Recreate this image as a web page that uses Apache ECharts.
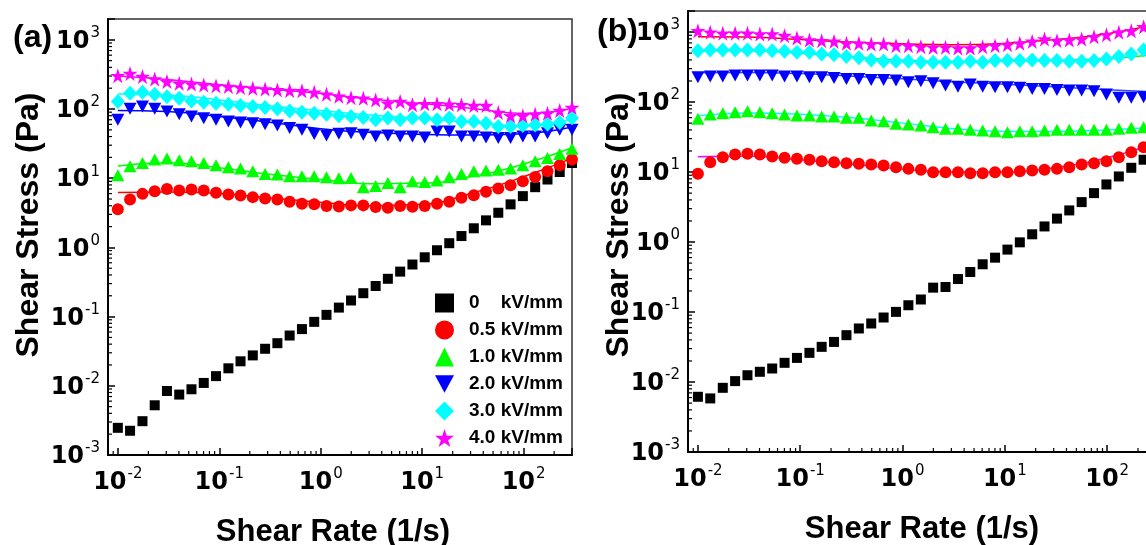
<!DOCTYPE html>
<html>
<head>
<meta charset="utf-8">
<style>
  html, body { margin: 0; padding: 0; background: #fff; }
  #chart { width: 1146px; height: 545px; }
</style>
<script src="https://cdn.jsdelivr.net/npm/echarts/dist/echarts.min.js"></script>
</head>
<body>
<div id="chart"></div>
<script>
// ---------- data ----------
const seriesNames = ['0    kV/mm', '0.5 kV/mm', '1.0 kV/mm', '2.0 kV/mm', '3.0 kV/mm', '4.0 kV/mm'];

// shear rates (1/s), log sweep
const shearRate = [0.01, 0.0132, 0.0175, 0.0231, 0.0305, 0.0403, 0.0532, 0.0703, 0.0929, 0.123,
  0.162, 0.214, 0.283, 0.374, 0.494, 0.653, 0.863, 1.14, 1.51, 1.99,
  2.63, 3.48, 4.59, 6.07, 8.02, 10.6, 14.0, 18.5, 24.4, 32.3,
  42.6, 56.3, 74.4, 98.3, 130, 172, 227, 300];

// panel (a) shear stress (Pa)
const a0kV = [0.00247, 0.00224, 0.00308, 0.00523, 0.00841, 0.00747, 0.00891, 0.0110, 0.0138, 0.0179,
  0.0226, 0.0275, 0.0343, 0.0413, 0.0533, 0.066, 0.084, 0.106, 0.135, 0.171,
  0.218, 0.277, 0.352, 0.447, 0.566, 0.72, 0.91, 1.15, 1.46, 1.89,
  2.46, 3.17, 4.19, 5.51, 7.42, 9.58, 12.3, 16.6];
const a05kV = [3.55, 4.94, 5.94, 6.5, 7.01, 6.65, 6.88, 6.65, 6.15, 5.83,
  5.64, 5.33, 5.11, 4.94, 4.56, 4.27, 4.19, 3.96, 3.9, 4.05,
  4.05, 3.83, 3.74, 3.96, 3.87, 3.96, 4.27, 4.56, 5.21, 5.69,
  6.35, 7.11, 7.93, 9.06, 10.4, 12.6, 15.4, 18.6];
const a1kV = [11.0, 14.9, 16.6, 18.6, 19.2, 18.2, 17.6, 16.6, 15.4, 14.4,
  13.8, 12.6, 11.5, 11.3, 10.7, 10.7, 10.7, 10.3, 10.0, 10.1,
  7.4, 7.7, 8.55, 7.4, 9.06, 8.85, 9.27, 10.3, 11.5, 12.6,
  12.9, 13.3, 13.8, 15.4, 17.6, 19.6, 22.4, 26.7];
const a2kV = [70, 100.7, 109, 100.7, 92, 84, 78, 73.8, 70, 66,
  64, 62.5, 60.4, 58, 53, 50.2, 43.4, 41.5, 44, 44.8,
  42.6, 40.2, 41.5, 40.2, 40.2, 38.9, 47.5, 47.5, 40.2, 40.2,
  38.9, 38, 38, 40.2, 40.2, 44.8, 50.2, 50.2];
const a3kV = [128, 169, 175, 163, 151, 143, 131, 125, 121, 117,
  112, 109, 105, 101, 94, 90, 87, 84, 80, 78,
  75.5, 70, 74, 70, 74, 74, 70, 74, 66, 66,
  62.5, 56, 56, 58, 59, 60.4, 64, 74];
const a4kV = [303, 327, 294, 272, 249, 235, 230, 223, 216, 211,
  204, 199, 195, 189, 185, 183, 175, 163, 153, 146,
  143, 135, 121, 128, 115, 119, 119, 117, 115, 112,
  112, 89, 80, 80, 84, 87, 95, 105];

// panel (b) shear stress (Pa)
const b0kV = [0.00615, 0.00583, 0.00826, 0.0103, 0.0125, 0.0140, 0.0156, 0.0188, 0.0221, 0.0261,
  0.0318, 0.0374, 0.0467, 0.0582, 0.0686, 0.0835, 0.1005, 0.125, 0.151, 0.223,
  0.228, 0.296, 0.373, 0.481, 0.598, 0.78, 0.99, 1.29, 1.67, 2.16,
  2.83, 3.72, 5.0, 6.65, 8.65, 11.5, 15.0, 19.5];
const b05kV = [9.46, 13.8, 16.3, 17.8, 18.2, 17.8, 16.7, 16.0, 15.5, 15.0,
  14.3, 13.8, 13.4, 13.1, 12.8, 12.4, 11.7, 11.1, 10.8, 9.96,
  9.96, 9.96, 9.64, 9.64, 9.96, 9.96, 10.3, 10.5, 10.8, 11.1,
  11.7, 12.8, 13.4, 14.3, 16.3, 19.2, 22.6, 26];
const b1kV = [57.6, 66.3, 69.2, 71.5, 73.9, 71.5, 69.2, 66.3, 64.2, 64.2,
  62.1, 62.1, 59.5, 59.5, 54.5, 53.2, 48.9, 47.7, 46.2, 43.7,
  41.5, 41.5, 40.1, 39.2, 38.3, 37.1, 38.3, 38.3, 39.2, 40.1,
  40.1, 40.1, 40.1, 40.1, 41.5, 42.8, 43.7, 45];
const b2kV = [226, 231, 231, 239, 239, 239, 239, 231, 231, 226,
  226, 221, 214, 214, 207, 207, 203, 192, 198, 185,
  172, 166, 178, 166, 163, 163, 160, 154, 154, 149,
  146, 146, 143, 128, 115, 115, 117, 118];
const b3kV = [543, 556, 556, 556, 556, 556, 543, 531, 514, 514,
  488, 476, 446, 428, 400, 382, 382, 382, 370, 370,
  370, 370, 382, 370, 391, 391, 391, 400, 391, 391,
  382, 382, 391, 413, 446, 488, 556, 620];
const b4kV = [1047, 991, 958, 958, 958, 940, 940, 889, 824, 771,
  754, 736, 690, 690, 676, 676, 640, 640, 619, 605,
  605, 593, 593, 619, 640, 661, 690, 736, 798, 754,
  771, 798, 859, 918, 991, 1047, 1194, 1300];

// fitted curves (read at a few shear rates)
const fitRate = [0.01, 0.03, 0.1, 0.3, 1, 3, 10, 30, 100, 300];
const aFit05 = [6.2, 6.3, 6.0, 5.2, 4.5, 4.0, 4.2, 6.0, 10.5, 19.5];
const aFit1  = [15, 16.8, 14.2, 11.5, 9.6, 8.3, 8.5, 10.5, 16, 27.5];
const aFit2  = [95, 92, 78, 65, 52, 46, 43, 42, 44, 55];
const aFit3  = [165, 160, 135, 112, 95, 82, 73, 64, 57, 72];
const aFit4  = [300, 268, 225, 195, 167, 140, 120, 103, 86, 102];
const bFit05 = [16.5, 17, 15, 13, 11, 10, 10, 11.5, 16, 26];
const bFit1  = [64, 70, 67, 60, 50, 42, 38, 38, 40, 44];
const bFit2  = [262, 265, 255, 235, 215, 195, 180, 165, 150, 140];
const bFit3  = [540, 540, 500, 440, 395, 380, 385, 395, 420, 480];
const bFit4  = [860, 850, 780, 720, 680, 660, 690, 780, 950, 1300];

// axis ranges and minor tick values
const xRange = [0.008, 300];
const yRange = [0.001, 2000];
const minorMult = [2, 3, 4, 5, 6, 7, 8, 9];
const xDecades = [0.001, 0.01, 0.1, 1, 10, 100];
const yDecades = [0.001, 0.01, 0.1, 1, 10, 100];

// ---------- styling ----------
const STAR = 'path://M50,0 L61.23,34.55 L97.55,34.55 L68.17,55.9 L79.39,90.45 L50,69.1 L20.61,90.45 L31.83,55.9 L2.45,34.55 L38.77,34.55 Z';
const DOWN_TRI = 'path://M0,0 L100,0 L50,92 Z';
const markers = [
  { symbol: 'rect', size: 10, color: '#000000' },
  { symbol: 'circle', size: 12, color: '#ff0000' },
  { symbol: 'triangle', size: [13, 12], color: '#00ff00' },
  { symbol: DOWN_TRI, size: [13, 12], color: '#0000ff' },
  { symbol: 'diamond', size: [14, 15], color: '#00ffff' },
  { symbol: STAR, size: 15, color: '#ff00ff' }
];
const aFitColors = ['#ff0000', '#00ff00', '#0000ff', '#00ffff', '#ff00ff'];
const bFitColors = ['#ff00ff', '#00ffff', '#3344ff', '#00ff00', '#ff0000'];

const FONT = 'Liberation Sans, Arial, sans-serif';
const TICKFONT = 'DejaVu Sans, sans-serif';

function minorList(decades, lo, hi) {
  const out = [];
  decades.forEach(d => minorMult.forEach(m => {
    const v = +(d * m).toPrecision(6);
    if (v > lo * 1.0001 && v < hi * 0.9999) out.push(v);
  }));
  return out;
}

function powLabel(value) {
  const e = Math.log10(value);
  const r = Math.round(e);
  if (Math.abs(e - r) > 1e-6) return '';
  return '{b|10}{s|' + r + '}';
}
const labelRich = {
  b: { fontFamily: TICKFONT, fontWeight: 'bold', fontSize: 24, color: '#000', lineHeight: 28, verticalAlign: 'bottom' },
  s: { fontFamily: TICKFONT, fontSize: 15, color: '#000', lineHeight: 16, verticalAlign: 'top', padding: [0, 0, 0, 1] }
};

function xAxisCfg(gi, nameGap, namePad) {
  return {
    type: 'log', logBase: 10, gridIndex: gi, min: xRange[0], max: xRange[1],
    axisLine: { show: true, lineStyle: { color: '#000', width: 2 } },
    axisTick: { show: true, inside: true, length: 7, lineStyle: { color: '#000', width: 1.5 } },
    splitLine: { show: false },
    axisLabel: { formatter: powLabel, rich: labelRich, margin: 12, showMinLabel: true, showMaxLabel: true },
    name: 'Shear Rate (1/s)', nameLocation: 'middle', nameGap: nameGap, nameMoveOverlap: false,
    nameTextStyle: { fontFamily: FONT, fontWeight: 'bold', fontSize: 31, color: '#000', padding: namePad }
  };
}
function yAxisCfg(gi, nameGap, namePad) {
  return {
    type: 'log', logBase: 10, gridIndex: gi, min: yRange[0], max: yRange[1],
    axisLine: { show: true, lineStyle: { color: '#000', width: 2 } },
    axisTick: { show: true, inside: true, length: 7, lineStyle: { color: '#000', width: 1.5 } },
    splitLine: { show: false },
    axisLabel: { formatter: powLabel, rich: labelRich, margin: 8 },
    name: 'Shear Stress (Pa)', nameLocation: 'middle', nameGap: nameGap, nameMoveOverlap: false,
    nameTextStyle: { fontFamily: FONT, fontWeight: 'bold', fontSize: 32, color: '#000', padding: namePad }
  };
}

function scatterSeries(gi, idx, values) {
  const m = markers[idx];
  return {
    type: 'scatter', name: seriesNames[idx], xAxisIndex: gi, yAxisIndex: gi,
    symbol: m.symbol, symbolSize: m.size,
    itemStyle: { color: m.color, opacity: 1 },
    data: shearRate.map((x, i) => [x, values[i]]), z: 4, silent: true
  };
}
function fitSeries(gi, k, values, color) {
  return {
    type: 'line', name: 'fit' + gi + '_' + k, xAxisIndex: gi, yAxisIndex: gi,
    smooth: 0.5, symbol: 'none', showSymbol: false,
    lineStyle: { color: color, width: 1.5 },
    data: fitRate.map((x, i) => [x, values[i]]), z: 3, silent: true
  };
}
function minorTickSeries(gi, dir, values) {
  return {
    type: 'custom', name: 'minor' + gi + dir, xAxisIndex: gi, yAxisIndex: gi, silent: true, z: 5,
    data: values.map(v => dir === 'x' ? [v, yRange[0]] : [xRange[0], v]),
    renderItem: function (params, api) {
      const p = api.coord([api.value(0), api.value(1)]);
      const shape = dir === 'x'
        ? { x1: p[0], y1: p[1], x2: p[0], y2: p[1] - 4 }
        : { x1: p[0], y1: p[1], x2: p[0] + 4, y2: p[1] };
      return { type: 'line', shape: shape, style: { stroke: '#000', lineWidth: 1.2 } };
    }
  };
}

const xMinor = minorList(xDecades, xRange[0], xRange[1]);
const yMinor = minorList(yDecades, yRange[0], yRange[1]);

const aData = [a0kV, a05kV, a1kV, a2kV, a3kV, a4kV];
const bData = [b0kV, b05kV, b1kV, b2kV, b3kV, b4kV];
const aFits = [aFit05, aFit1, aFit2, aFit3, aFit4];
const bFits = [bFit05, bFit1, bFit2, bFit3, bFit4];

const series = [];
aFits.forEach((f, k) => series.push(fitSeries(0, k, f, aFitColors[k])));
bFits.forEach((f, k) => series.push(fitSeries(1, k, f, bFitColors[k])));
aData.forEach((d, k) => series.push(scatterSeries(0, k, d)));
bData.forEach((d, k) => series.push(scatterSeries(1, k, d)));
series.push(minorTickSeries(0, 'x', xMinor));
series.push(minorTickSeries(0, 'y', yMinor));
series.push(minorTickSeries(1, 'x', xMinor));
series.push(minorTickSeries(1, 'y', yMinor));

const option = {
  backgroundColor: '#ffffff',
  animation: false,
  grid: [
    { left: 108, top: 19, width: 464, height: 436, outerBoundsMode: 'none', containLabel: false,
      show: true, borderColor: '#333', borderWidth: 1.5, backgroundColor: 'transparent' },
    { left: 688, top: 11, width: 468, height: 441, outerBoundsMode: 'none', containLabel: false,
      show: true, borderColor: '#333', borderWidth: 1.5, backgroundColor: 'transparent' }
  ],
  xAxis: [xAxisCfg(0, 62, [0, 14, 0, 0]), xAxisCfg(1, 62, [0, 0, 0, 0])],
  yAxis: [yAxisCfg(0, 63, [0, 0, 0, 24]), yAxisCfg(1, 53, [0, 0, 0, 13])],
  legend: {
    data: seriesNames, orient: 'vertical', left: 430, top: 288,
    itemWidth: 19, itemHeight: 19, itemGap: 7, selectedMode: false,
    textStyle: { fontFamily: FONT, fontWeight: 'bold', fontSize: 19, color: '#000', lineHeight: 20, padding: [0, 0, 0, 10] }
  },
  graphic: [
    { type: 'text', left: 13, top: 22, style: { text: '(a)', font: 'bold 32px ' + FONT, fill: '#000' } },
    { type: 'text', left: 597, top: 16, style: { text: '(b)', font: 'bold 32px ' + FONT, fill: '#000' } }
  ],
  series: series
};

const chart = echarts.init(document.getElementById('chart'), null, { renderer: 'canvas' });
chart.setOption(option);
</script>
</body>
</html>
